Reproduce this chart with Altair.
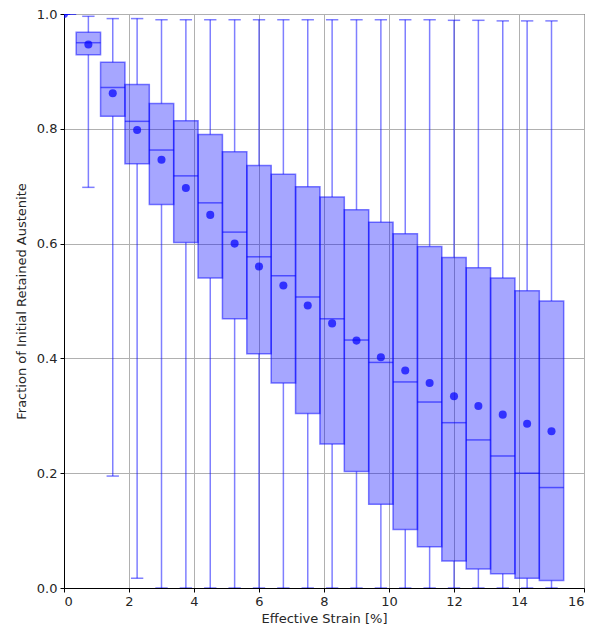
import altair as alt
import pandas as pd

positions = [0.0, 0.75, 1.5, 2.25, 3.0, 3.75, 4.5, 5.25, 6.0, 6.75, 7.5,
             8.25, 9.0, 9.75, 10.5, 11.25, 12.0, 12.75, 13.5, 14.25, 15.0]
whisker_high = [1.0, 0.996, 0.992, 0.992, 0.990, 0.990, 0.990, 0.990, 0.990, 0.990, 0.990,
                0.990, 0.990, 0.990, 0.990, 0.990, 0.989, 0.989, 0.988, 0.988, 0.988]
q3 = [1.0, 0.968, 0.916, 0.877, 0.844, 0.814, 0.790, 0.760, 0.736, 0.721, 0.699,
      0.681, 0.659, 0.637, 0.617, 0.595, 0.576, 0.558, 0.540, 0.518, 0.500]
median = [1.0, 0.950, 0.872, 0.813, 0.763, 0.718, 0.671, 0.620, 0.577, 0.544, 0.507,
          0.469, 0.432, 0.393, 0.359, 0.324, 0.288, 0.258, 0.230, 0.200, 0.175]
q1 = [1.0, 0.929, 0.822, 0.739, 0.668, 0.602, 0.540, 0.469, 0.408, 0.357, 0.304,
      0.251, 0.203, 0.146, 0.102, 0.072, 0.047, 0.033, 0.025, 0.017, 0.013]
whisker_low = [1.0, 0.698, 0.195, 0.017, 0.0, 0.0, 0.0, 0.0, 0.0, 0.0, 0.0,
               0.0, 0.0, 0.0, 0.0, 0.0, 0.0, 0.0, 0.0, 0.0, 0.0]
mean = [1.0, 0.947, 0.862, 0.798, 0.746, 0.697, 0.650, 0.600, 0.560, 0.527, 0.492,
        0.461, 0.431, 0.402, 0.379, 0.357, 0.334, 0.317, 0.302, 0.286, 0.273]

df = pd.DataFrame({
    "pos": positions, "whi": whisker_high, "q3": q3, "med": median,
    "q1": q1, "wlo": whisker_low, "mean": mean,
})

xscale = alt.Scale(domain=[0, 16], nice=False, zero=False)
yscale = alt.Scale(domain=[0, 1], nice=False, zero=False)

xaxis = alt.Axis(values=list(range(0, 17, 2)), format="d", title="Effective Strain [%]",
                 grid=True, titlePadding=4)
yaxis = alt.Axis(values=[0, 0.2, 0.4, 0.6, 0.8, 1.0], format=".1f",
                 title="Fraction of Initial Retained Austenite", grid=True, titlePadding=8)

base = alt.Chart(df).transform_calculate(
    xl="datum.pos - 0.375", xr="datum.pos + 0.375",
    cl="datum.pos - 0.19", cr="datum.pos + 0.19",
)

upper_whisker = base.mark_rule(color="blue", opacity=0.5, strokeWidth=1.5, clip=True).encode(
    x=alt.X("pos:Q", scale=xscale, axis=xaxis),
    y=alt.Y("q3:Q", scale=yscale, axis=yaxis),
    y2="whi:Q",
)
lower_whisker = base.mark_rule(color="blue", opacity=0.5, strokeWidth=1.5, clip=True).encode(
    x=alt.X("pos:Q", scale=xscale),
    y=alt.Y("wlo:Q", scale=yscale),
    y2="q1:Q",
)
cap_hi = base.mark_rule(color="blue", opacity=0.5, strokeWidth=1.5, clip=True).encode(
    x=alt.X("cl:Q", scale=xscale), x2="cr:Q",
    y=alt.Y("whi:Q", scale=yscale),
)
cap_lo = base.mark_rule(color="blue", opacity=0.5, strokeWidth=1.5, clip=True).encode(
    x=alt.X("cl:Q", scale=xscale), x2="cr:Q",
    y=alt.Y("wlo:Q", scale=yscale),
)
boxes = base.mark_rect(fill="blue", fillOpacity=0.35, stroke="blue", strokeOpacity=0.5,
                       strokeWidth=1.5, clip=True).encode(
    x=alt.X("xl:Q", scale=xscale), x2="xr:Q",
    y=alt.Y("q1:Q", scale=yscale), y2="q3:Q",
)
medians = base.mark_rule(color="blue", opacity=0.55, strokeWidth=1.5, clip=True).encode(
    x=alt.X("xl:Q", scale=xscale), x2="xr:Q",
    y=alt.Y("med:Q", scale=yscale),
)
means = base.mark_circle(color="blue", opacity=0.7, size=65, clip=True).encode(
    x=alt.X("pos:Q", scale=xscale),
    y=alt.Y("mean:Q", scale=yscale),
)

chart = alt.layer(upper_whisker, lower_whisker, cap_hi, cap_lo, boxes, medians, means).properties(
    width=520, height=574,
    autosize=alt.AutoSizeParams(type="none"),
    padding={"left": 56, "top": 6, "right": 7, "bottom": 37},
).configure_view(
    stroke="#000000", strokeWidth=1,
).configure_axis(
    domainColor="#000000", domainWidth=1,
    tickColor="#000000", tickSize=4, tickWidth=1,
    gridColor="#b0b0b0", gridWidth=1,
    labelFont="DejaVu Sans", labelFontSize=13, labelColor="#262626",
    titleFont="DejaVu Sans", titleFontSize=13, titleFontWeight="normal", titleColor="#262626",
    labelPadding=3,
)

chart.save("out.html", embed_options={"renderer": "svg", "actions": False})
